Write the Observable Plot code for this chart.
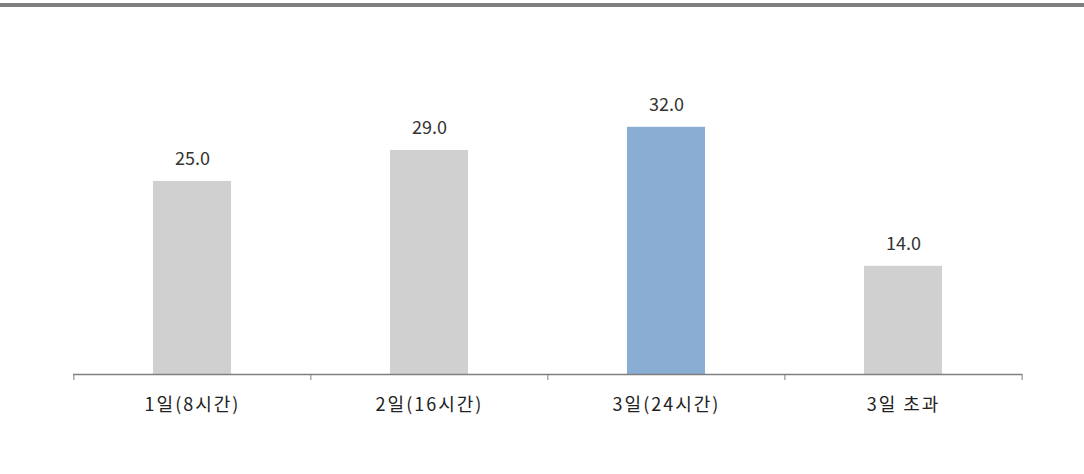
<!DOCTYPE html>
<html><head><meta charset="utf-8">
<script src="https://cdn.jsdelivr.net/npm/d3@7"></script>
<script src="https://cdn.jsdelivr.net/npm/@observablehq/plot@0.6"></script>
<style>
html,body{margin:0;padding:0;background:#fff;}
#topline{margin-top:3px;height:4px;background:#7f7f7f;width:1084px;}
svg{display:block;font-family:"Noto Sans CJK KR","Noto Sans",sans-serif;}
</style></head>
<body>
<div id="topline"></div>
<div id="chart"></div>
<script>
const categories = ["1일(8시간)", "2일(16시간)", "3일(24시간)", "3일 초과"];
const values = [25.0, 29.0, 32.0, 14.0];
const highlight = ["3일(24시간)"];

const data = categories.map((c, i) => ({cat: c, value: values[i]}));
const W = 1084, H = 467, ML = 73, MR = 62, MT = 58, MB = 100;
const step = (W - ML - MR) / categories.length;

const chart = Plot.plot({
  width: W, height: H,
  marginLeft: ML, marginRight: MR, marginTop: MT, marginBottom: MB,
  style: {fontFamily: '"Noto Sans CJK KR","Noto Sans",sans-serif', background: "#fff"},
  x: {domain: categories, paddingInner: 0.67, paddingOuter: 0.335, label: null},
  y: {domain: [0, 40], axis: null},
  marks: [
    Plot.barY(data, {x: "cat", y: "value", fill: d => highlight.includes(d.cat) ? "#8aaed3" : "#d0d0d0"}),
    Plot.ruleY([0], {stroke: "#7f7f7f", strokeWidth: 1.5}),
    Plot.ruleX(categories, {x: d => d, y1: 0, y2: 0, insetBottom: -6, dx: -step / 2, stroke: "#7f7f7f", strokeWidth: 1}),
    Plot.ruleX([categories[categories.length - 1]], {x: d => d, y1: 0, y2: 0, insetBottom: -6, dx: step / 2, stroke: "#7f7f7f", strokeWidth: 1}),
    Plot.text(data, {x: "cat", y: "value", text: d => d.value.toFixed(1), dy: -22, fontSize: 18, fill: "#333", letterSpacing: "1.2px"}),
    Plot.axisX({tickSize: 0, tickPadding: 24, fontSize: 18, color: "#222", label: null})
  ]
});
chart.querySelectorAll('[aria-label="x-axis tick label"] text').forEach(t => t.setAttribute("letter-spacing", "2px"));
document.getElementById("chart").appendChild(chart);
</script>
</body></html>
